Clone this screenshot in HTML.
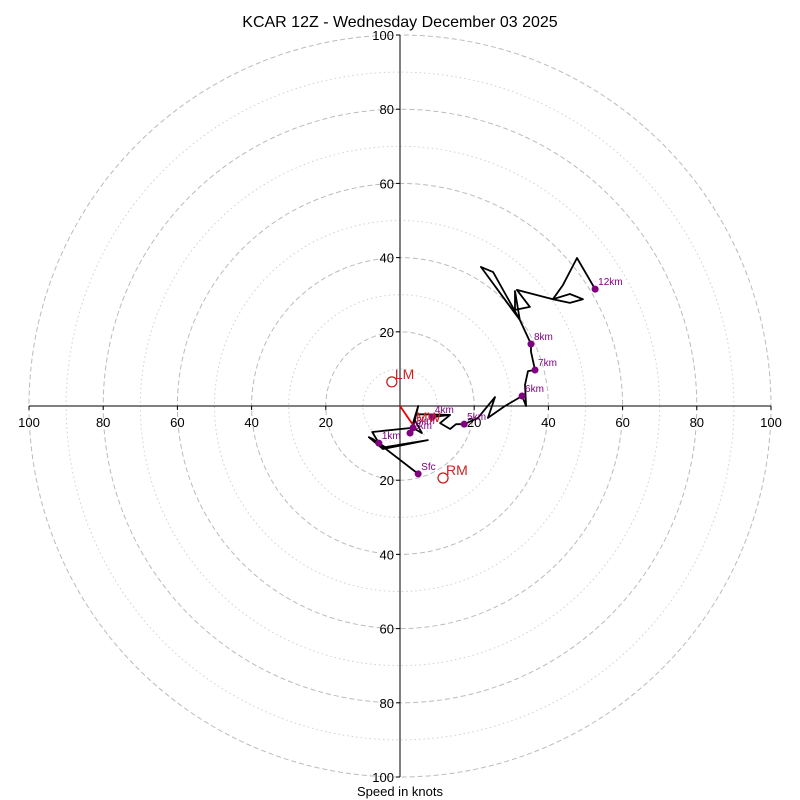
<!DOCTYPE html>
<html><head><meta charset="utf-8"><style>
body{margin:0;background:#fff}
svg{display:block;font-family:"Liberation Sans",sans-serif}
</style></head><body>
<svg id="c" width="800" height="800" viewBox="0 0 800 800">
<text x="400" y="27" text-anchor="middle" font-size="16">KCAR 12Z - Wednesday December 03 2025</text>
<text x="400" y="796" text-anchor="middle" font-size="13">Speed in knots</text>
</svg>
<script>
const ringMajor=[20,40,60,80,100];
const ringMinor=[10,30,50,70,90];
const tickVals=[20,40,60,80,100];
const uWind=[4.9,-7.3,-8.4,-4.6,7.5,-4.0,-5.7,-7.5,3.2,2.7,4.9,4.0,5.9,3.5,4.3,13.5,8.6,13.5,10.8,13.5,15.1,17.3,21.0,25.6,23.7,28.3,32.9,34.0,33.7,34.5,36.4,35.3,35.3,32.3,21.8,25.1,32.3,31.0,31.0,35.0,31.5,41.2,45.8,49.3,45.8,41.2,43.9,47.7,52.6];
const vWind=[-18.3,-8.9,-8.4,-11.6,-9.2,-11.1,-10.0,-7.0,-5.9,-7.3,0,-3.8,-7.3,-5.9,-2.2,-2.4,-3.0,-2.4,-4.6,-6.2,-4.9,-4.9,-3.2,2.4,-3.2,0,2.7,0,5.7,9.4,9.7,14.6,16.7,23.2,37.5,36.1,23.2,31.0,25.9,26.7,31.3,28.8,30.2,28.8,27.8,28.8,32.6,39.9,31.5];
const hLabels=["Sfc","1km","2km","3km","4km","5km","6km","7km","8km","12km"];
const hIndex=[0,6,9,13,16,21,26,30,32,48];
const motionNames=["LM","RM","MW"];
const motionU=[-2.2,11.6,3.5];
const motionV=[6.5,-19.4,-5.1];

const svg=document.getElementById('c');const NS='http://www.w3.org/2000/svg';
const cx=400,cy=406,k=3.71;
const X=u=>cx+u*k, Y=v=>cy-v*k;
function mk(t,a){const e=document.createElementNS(NS,t);for(const n in a)e.setAttribute(n,a[n]);svg.appendChild(e);return e;}
ringMinor.forEach(r=>{const e=mk('circle',{cx,cy,r:r*k,fill:'none',stroke:'#d0d0d0','stroke-dasharray':'1.5,3'});

});
ringMajor.forEach(r=>{const e=mk('circle',{cx,cy,r:r*k,fill:'none',stroke:'#bbb','stroke-dasharray':'5,3'});

});
let a=mk('line',{x1:X(-100),y1:cy,x2:X(100),y2:cy,stroke:'#000'});


a=mk('line',{x1:cx,y1:Y(100),x2:cx,y2:Y(-100),stroke:'#000'});


tickVals.forEach(t=>{[-1,1].forEach(s=>{
 mk('line',{x1:X(s*t),y1:cy,x2:X(s*t),y2:cy+4,stroke:'#000'});
 let e=mk('text',{x:X(s*t),y:cy+21,'text-anchor':'middle','font-size':13});e.textContent=t;
 
 
 mk('line',{x1:cx-4,y1:Y(s*t),x2:cx,y2:Y(s*t),stroke:'#000'});
 e=mk('text',{x:cx-6,y:Y(s*t)+5,'text-anchor':'end','font-size':13});e.textContent=t;
 
 
});});
let pts=uWind.map((u,i)=>X(u).toFixed(1)+','+Y(vWind[i]).toFixed(1)).join(' ');
let pl=mk('polyline',{points:pts,fill:'none',stroke:'#000','stroke-width':1.8,'stroke-linejoin':'round'});


// mean wind arrow
let mw=mk('line',{x1:cx,y1:cy,x2:X(motionU[2]),y2:Y(motionV[2]),stroke:'#e00','stroke-width':1.8});


hIndex.forEach((idx,j)=>{
 const d=mk('circle',{cx:X(uWind[idx]),cy:Y(vWind[idx]),r:3.5,fill:'purple'});
 
 
 const t=mk('text',{x:X(uWind[idx])+3,y:Y(vWind[idx])-4,fill:'purple','font-size':10});t.textContent=hLabels[j];
 
 
});
motionNames.forEach((n,i)=>{
 const c=mk('circle',{cx:X(motionU[i]),cy:Y(motionV[i]),r:i==2?0:5,fill:'none',stroke:'#c22','stroke-width':1.3});
 
 
 const t=mk('text',{x:X(motionU[i])+3,y:Y(motionV[i])-3,fill:'#c22','font-size':14});t.textContent=n;
 
 
});
</script>
</body></html>
